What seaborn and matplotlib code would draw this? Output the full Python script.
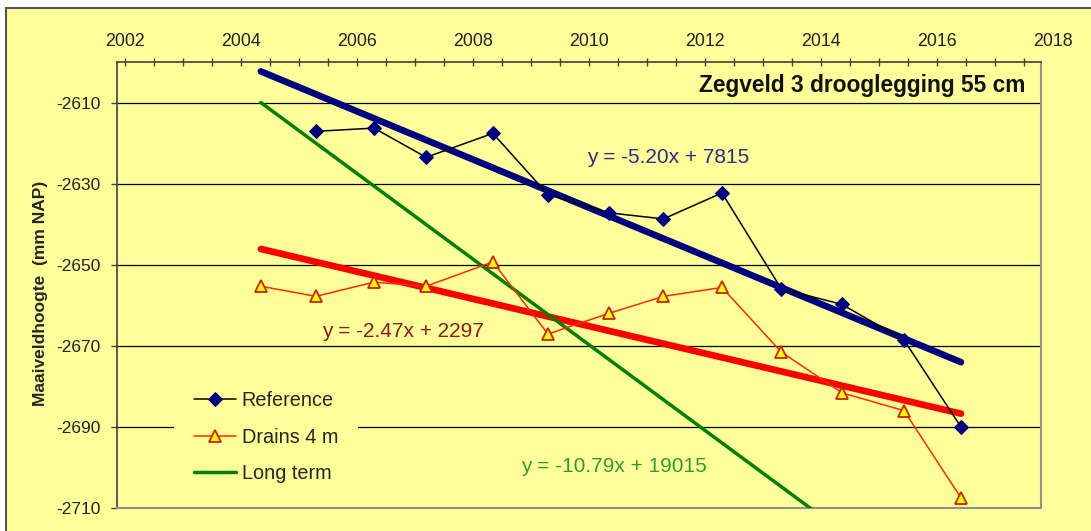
import numpy as np
import matplotlib
matplotlib.use("Agg")
import matplotlib.pyplot as plt
from matplotlib.patches import Rectangle
from matplotlib.ticker import MultipleLocator, FixedLocator
import seaborn as sns

# measurement dates (decimal years) and surface levels (mm NAP)
years = [2004.34, 2005.29, 2006.29, 2007.19, 2008.34, 2009.29, 2010.34,
         2011.28, 2012.29, 2013.31, 2014.36, 2015.43, 2016.41]
ref_years = years[1:]
reference = [-2617.1, -2616.3, -2623.5, -2617.6, -2632.7, -2637.2,
             -2638.7, -2632.3, -2655.9, -2659.8, -2668.6, -2690.0]
drains = [-2655.3, -2657.8, -2654.3, -2655.3, -2649.3, -2667.1, -2662.0,
          -2657.8, -2655.6, -2671.5, -2681.6, -2686.0, -2707.5]

# long term subsidence line
long_term_start = -2610.0
long_term_rate = -10.56

eq_ref = "y = -5.20x + 7815"
eq_drains = "y = -2.47x + 2297"
eq_long = "y = -10.79x + 19015"
title = "Zegveld 3 drooglegging 55 cm"
x_ticks = [2002, 2004, 2006, 2008, 2010, 2012, 2014, 2016]
y_ticks = [-2610, -2630, -2650, -2670, -2690, -2710]

yellow = "#FFFF99"
navy = "#000080"

sns.set_style("ticks")
plt.rcParams["font.family"] = ["Liberation Sans", "DejaVu Sans"]

fig = plt.figure(figsize=(10.91, 5.31), dpi=100, facecolor="white")
fig.patches.append(Rectangle((6 / 1091, -0.02), 1.05, 1 - 8 / 531 + 0.02,
                             transform=fig.transFigure, facecolor=yellow,
                             edgecolor="#555555", lw=1.5, zorder=-10))
ax = fig.add_axes([117 / 1091, 1 - 508 / 531, 924 / 1091, 446 / 531])
ax.set_facecolor(yellow)

# trend lines (least squares) over the measuring period
span = np.array([years[0], years[-1]])
ref_fit = np.polyfit(ref_years, reference, 1)
drn_fit = np.polyfit(years, drains, 1)
sns.lineplot(x=span, y=np.polyval(ref_fit, span), color=navy, lw=4.8,
             solid_capstyle="round", legend=False, ax=ax, zorder=3)
sns.lineplot(x=span, y=np.polyval(drn_fit, span), color="#FF0000", lw=4.8,
             solid_capstyle="round", legend=False, ax=ax, zorder=3)
sns.lineplot(x=span, y=long_term_start + long_term_rate * (span - span[0]),
             color="#008000", lw=2.5, label="Long term", ax=ax, zorder=3)

sns.lineplot(x=ref_years, y=reference, color="black", lw=1.1, marker="D",
             markersize=7, markerfacecolor=navy, markeredgecolor=navy,
             label="Reference", ax=ax, zorder=4)
sns.lineplot(x=years, y=drains, color="#FF2a00", lw=1.1, marker="^",
             markersize=8.5, markerfacecolor="#FFFF00",
             markeredgecolor="#D02000", markeredgewidth=1.3,
             label="Drains 4 m", ax=ax, zorder=4)

ax.set_xlim(2001.86, 2017.79)
ax.set_ylim(-2710, -2600)

ax.xaxis.tick_top()
ax.xaxis.set_major_locator(FixedLocator(x_ticks))
ax.xaxis.set_minor_locator(MultipleLocator(0.5))
ax.tick_params(axis="x", which="both", direction="inout", length=6,
               width=1, color="#404040", pad=6, labelsize=12.8,
               labelcolor="#222222")
ax.annotate("2018", xy=(2018, 1), xycoords=("data", "axes fraction"),
            xytext=(0, 9), textcoords="offset points", ha="center",
            va="bottom", fontsize=12.8, color="#222222",
            annotation_clip=False)

ax.set_yticks(y_ticks)
ax.set_yticklabels([str(v) for v in y_ticks])
ax.tick_params(axis="y", direction="out", length=4, width=1,
               color="#404040", pad=8, labelsize=12.5, labelcolor="#222222")
ax.grid(axis="y", color="black", lw=0.9)
ax.grid(axis="x", visible=False)

for side in ["top", "left"]:
    ax.spines[side].set_color("#404040")
    ax.spines[side].set_linewidth(1.2)
for side in ["right", "bottom"]:
    ax.spines[side].set_color("#909090")
    ax.spines[side].set_linewidth(1.5)

ax.set_xlabel("")
ax.set_ylabel("Maaiveldhoogte  (mm NAP)", fontsize=12.5, fontweight="bold")
ax.yaxis.set_label_coords(-0.075, 0.482)

ax.text(0.983, 0.948, title, transform=ax.transAxes, ha="right",
        va="center", fontsize=16.4, fontweight="bold", color="#111111")
ax.text(0.597, 0.785, eq_ref, transform=ax.transAxes, ha="center",
        va="center", fontsize=15, color="#2b2b8c")
ax.text(0.3095, 0.395, eq_drains, transform=ax.transAxes, ha="center",
        va="center", fontsize=15, color="#8B1A1A")
ax.text(0.538, 0.094, eq_long, transform=ax.transAxes, ha="center",
        va="center", fontsize=15, color="#339933")

handles, labels = ax.get_legend_handles_labels()
order = [labels.index(k) for k in ["Reference", "Drains 4 m", "Long term"]]
leg = ax.legend([handles[i] for i in order], [labels[i] for i in order],
                loc="upper left", bbox_to_anchor=(0.062, 0.306),
                borderaxespad=0, frameon=True, facecolor=yellow,
                edgecolor="none", framealpha=1, fontsize=14.3,
                labelspacing=0.88, handlelength=2.1, handletextpad=0.3,
                borderpad=1.0, fancybox=False)

fig.savefig("out.png", dpi=100, facecolor=fig.get_facecolor())
